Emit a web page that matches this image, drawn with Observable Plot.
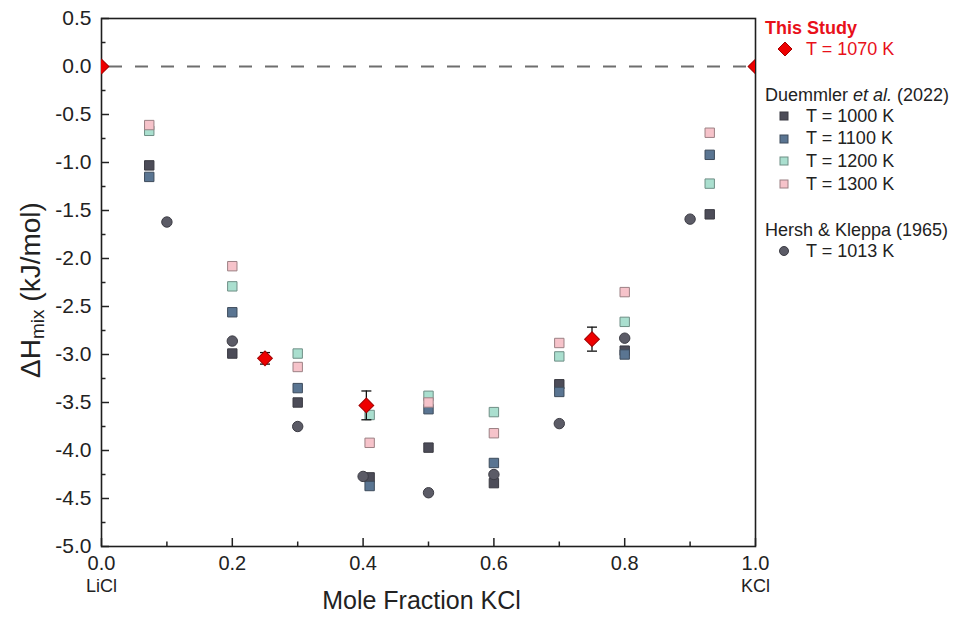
<!DOCTYPE html>
<html>
<head>
<meta charset="utf-8">
<script src="https://cdn.jsdelivr.net/npm/d3@7"></script>
<script src="https://cdn.jsdelivr.net/npm/@observablehq/plot@0.6"></script>
<style>
  html, body { margin: 0; padding: 0; background: #fff; }
  body { font-family: "Liberation Sans", Arial, sans-serif; }
  #wrap { position: relative; width: 963px; height: 617px; overflow: hidden; }
  #legend { position: absolute; left: 765px; top: 18px; width: 198px; font-size: 18px; color: #222; }
  .lg-title { height: 20px; line-height: 20px; white-space: nowrap; }
  .lg-group + .lg-group { margin-top: 24.4px; }
  .lg-item { height: 22.6px; display: flex; align-items: center; white-space: nowrap; }
  .lg-item svg { width: 38px; height: 22px; flex: none; }
  .lg-item span { padding-left: 3px; }
</style>
</head>
<body>
<div id="wrap"><div id="chart"></div><div id="legend"></div></div>
<script>
// ---------------- data ----------------
// Duemmler et al. (2022): mole fraction KCl and ΔHmix (kJ/mol) per temperature
const duemmlerX = [0.073, 0.2, 0.3, 0.41, 0.5, 0.6, 0.7, 0.8, 0.93];
const duemmler1000 = [-1.03, -2.99, -3.50, -4.28, -3.97, -4.34, -3.31, -2.96, -1.54];
const duemmler1100 = [-1.15, -2.56, -3.35, -4.37, -3.57, -4.13, -3.39, -3.00, -0.92];
const duemmler1200 = [-0.67, -2.29, -2.99, -3.63, -3.43, -3.60, -3.02, -2.66, -1.22];
const duemmler1300 = [-0.61, -2.08, -3.13, -3.92, -3.50, -3.82, -2.88, -2.35, -0.69];
const duemmlerSeries = ["T = 1000 K", "T = 1100 K", "T = 1200 K", "T = 1300 K"];

// Hersh & Kleppa (1965), T = 1013 K
const hershX = [0.1, 0.2, 0.3, 0.4, 0.5, 0.6, 0.7, 0.8, 0.9];
const hershY = [-1.62, -2.86, -3.75, -4.27, -4.44, -4.25, -3.72, -2.83, -1.59];

// This study, T = 1070 K
const studyX = [0.0, 0.25, 0.405, 0.75, 1.0];
const studyY = [0.0, -3.04, -3.53, -2.84, 0.0];
const studyErr = [0.0, 0.06, 0.15, 0.125, 0.0];

// axis ticks and labels
const yMajorTicks = [0.5, 0.0, -0.5, -1.0, -1.5, -2.0, -2.5, -3.0, -3.5, -4.0, -4.5, -5.0];
const yMinorTicks = [0.25, -0.25, -0.75, -1.25, -1.75, -2.25, -2.75, -3.25, -3.75, -4.25, -4.75];
const xMajorTicks = [0.0, 0.2, 0.4, 0.6, 0.8, 1.0];
const xMinorTicks = [0.1, 0.3, 0.5, 0.7, 0.9];
const xEndLabels = ["LiCl", "KCl"];
const xEndPositions = [0.0, 1.0];
const xLabel = "Mole Fraction KCl";

const legendTitles = ["This Study", "Duemmler et al. (2022)", "Hersh & Kleppa (1965)"];
const studyLabel = "T = 1070 K";
const hershLabel = "T = 1013 K";

// ---------------- styles ----------------
const duemmlerFill = ["#4c4c58", "#5a7592", "#aadfcf", "#f6c3ca"];
const duemmlerStroke = ["#3a3a42", "#3e4c5c", "#6f8f86", "#9c8084"];
const hershFill = "#5b5b66", hershStroke = "#3c3c44";
const studyFill = "#ee0000", studyStroke = "#a30000", studyText = "#e8101a";

// ---------------- build tables ----------------
const duemmlerValues = [duemmler1000, duemmler1100, duemmler1200, duemmler1300];
const duemmler = duemmlerSeries.flatMap((s, i) =>
  duemmlerX.map((x, j) => ({ x, y: duemmlerValues[i][j], series: s, k: i })));
const hersh = hershX.map((x, i) => ({ x, y: hershY[i] }));
const study = studyX.map((x, i) => ({ x, y: studyY[i], err: studyErr[i] }));
const studyErrs = study.filter(d => d.err > 0);
const endLabels = xEndLabels.map((t, i) => ({ x: xEndPositions[i], t }));

const capSymbol = { draw(ctx) { ctx.moveTo(-5, 0); ctx.lineTo(5, 0); } };
const fmt = d => d.toFixed(1);

const chart = Plot.plot({
  width: 963,
  height: 617,
  marginLeft: 101,
  marginRight: 208,
  marginTop: 18,
  marginBottom: 71,
  style: { fontFamily: "Liberation Sans, Arial, sans-serif", fontSize: "20px", color: "#222", background: "white" },
  x: { domain: [0, 1] },
  y: { domain: [-5, 0.5] },
  color: { domain: duemmlerSeries, range: duemmlerFill },
  marks: [
    Plot.ruleY([0], { stroke: "#6e6e6e", strokeWidth: 2, strokeDasharray: "13,13", strokeDashoffset: -8 }),
    Plot.axisY(yMajorTicks, { tickSize: -8, tickPadding: 18, tickFormat: fmt, strokeWidth: 1.5, label: null, fontSize: 21 }),
    Plot.axisY(yMinorTicks, { tickSize: -4.5, tickFormat: null, text: null, strokeWidth: 1.5, label: null }),
    Plot.axisX(xMajorTicks, { tickSize: -8, tickPadding: 17, tickFormat: fmt, strokeWidth: 1.5, label: null, fontSize: 20 }),
    Plot.axisX(xMinorTicks, { tickSize: -4.5, tickFormat: null, text: null, strokeWidth: 1.5, label: null }),
    Plot.text(endLabels, { x: "x", text: "t", frameAnchor: "bottom", dy: 45, fontSize: 18, fill: "#222" }),
    Plot.text([xLabel], { frameAnchor: "bottom", dx: -7, dy: 62, fontSize: 25, fill: "#222" }),
    Plot.frame({ stroke: "#1e1e1e", strokeWidth: 1.6 }),
    Plot.dot(duemmler, { x: "x", y: "y", symbol: "square", r: 5.3, fill: "series",
      stroke: d => duemmlerStroke[d.k], strokeWidth: 1 }),
    Plot.dot(hersh, { x: "x", y: "y", symbol: "circle", r: 5.2, fill: hershFill, stroke: hershStroke, strokeWidth: 1 }),
    Plot.ruleX(studyErrs, { x: "x", y1: d => d.y - d.err, y2: d => d.y + d.err, stroke: "#111", strokeWidth: 1.3 }),
    Plot.dot(studyErrs, { x: "x", y: d => d.y + d.err, symbol: capSymbol, fill: "none", stroke: "#111", strokeWidth: 1.3 }),
    Plot.dot(studyErrs, { x: "x", y: d => d.y - d.err, symbol: capSymbol, fill: "none", stroke: "#111", strokeWidth: 1.3 }),
    Plot.dot(study, { x: "x", y: "y", symbol: "square", rotate: 45, r: 5.9, fill: studyFill, stroke: studyStroke, strokeWidth: 1, clip: true })
  ]
});

// y-axis title with subscript
const svg = d3.select(chart);
const yt = svg.append("text")
  .attr("transform", "translate(33,290) rotate(-90)")
  .attr("text-anchor", "middle")
  .attr("dominant-baseline", "middle")
  .attr("fill", "#222")
  .style("font-size", "28px");
yt.append("tspan").text("ΔH");
yt.append("tspan").attr("font-size", "19px").attr("dy", "6").text("mix");
yt.append("tspan").attr("dy", "-6").text(" (kJ/mol)");

document.getElementById("chart").appendChild(chart);

// ---------------- legend ----------------
function marker(kind, fill, stroke) {
  const ns = "http://www.w3.org/2000/svg";
  const s = document.createElementNS(ns, "svg");
  s.setAttribute("viewBox", "0 0 38 22");
  let el;
  if (kind === "diamond") {
    el = document.createElementNS(ns, "polygon");
    el.setAttribute("points", "20,4 27,11 20,18 13,11");
  } else if (kind === "square") {
    el = document.createElementNS(ns, "rect");
    el.setAttribute("x", 15); el.setAttribute("y", 7);
    el.setAttribute("width", 8); el.setAttribute("height", 8);
  } else {
    el = document.createElementNS(ns, "circle");
    el.setAttribute("cx", 19); el.setAttribute("cy", 11); el.setAttribute("r", 4.5);
  }
  el.setAttribute("fill", fill); el.setAttribute("stroke", stroke); el.setAttribute("stroke-width", 1);
  s.appendChild(el);
  return s;
}
function item(kind, fill, stroke, label, color) {
  const d = document.createElement("div");
  d.className = "lg-item";
  d.appendChild(marker(kind, fill, stroke));
  const sp = document.createElement("span");
  sp.textContent = label;
  if (color) sp.style.color = color;
  d.appendChild(sp);
  return d;
}
function title(text, color, bold) {
  const d = document.createElement("div");
  d.className = "lg-title";
  const parts = text.split("et al.");
  if (parts.length === 2) {
    d.append(parts[0]);
    const i = document.createElement("i"); i.textContent = "et al."; d.append(i);
    d.append(parts[1]);
  } else d.textContent = text;
  if (color) d.style.color = color;
  if (bold) d.style.fontWeight = "bold";
  return d;
}
const legend = document.getElementById("legend");
const g1 = document.createElement("div"); g1.className = "lg-group";
g1.appendChild(title(legendTitles[0], studyText, true));
g1.appendChild(item("diamond", studyFill, studyStroke, studyLabel, studyText));
const g2 = document.createElement("div"); g2.className = "lg-group";
g2.appendChild(title(legendTitles[1]));
duemmlerSeries.forEach((s, i) => g2.appendChild(item("square", duemmlerFill[i], duemmlerStroke[i], s)));
const g3 = document.createElement("div"); g3.className = "lg-group";
g3.appendChild(title(legendTitles[2]));
g3.appendChild(item("circle", hershFill, hershStroke, hershLabel));
legend.append(g1, g2, g3);
</script>
</body>
</html>
